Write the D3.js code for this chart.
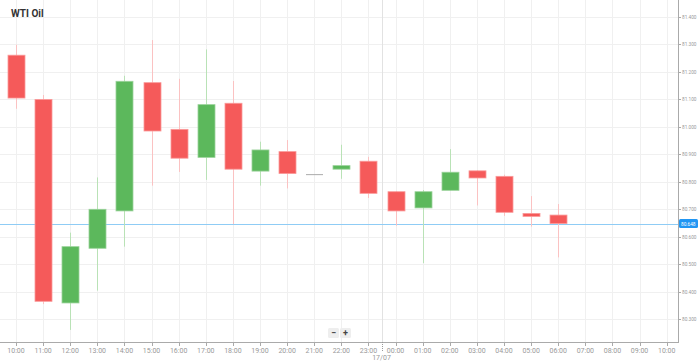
<!DOCTYPE html>
<html><head><meta charset="utf-8">
<script src="https://cdn.jsdelivr.net/npm/d3@7"></script>
<style>
html,body{margin:0;padding:0;background:#fff;}
svg{display:block;font-family:Roboto,"Open Sans",sans-serif;}
</style></head>
<body>
<svg id="c" width="699" height="361"></svg>
<script>
// ---- data ----
const title = "WTI Oil";
const hours = ["10:00","11:00","12:00","13:00","14:00","15:00","16:00","17:00","18:00","19:00","20:00","21:00","22:00","23:00","00:00","01:00","02:00","03:00","04:00","05:00","06:00","07:00","08:00","09:00","10:00"];
const candleHours = ["10:00","11:00","12:00","13:00","14:00","15:00","16:00","17:00","18:00","19:00","20:00","21:00","22:00","23:00","00:00","01:00","02:00","03:00","04:00","05:00","06:00"];
const openVals  = [81.261,81.100,80.359,80.558,80.694,81.161,80.991,80.889,81.086,80.839,80.910,80.828,80.846,80.875,80.764,80.705,80.769,80.840,80.820,80.685,80.679];
const highVals  = [81.299,81.116,80.615,80.816,81.186,81.316,81.175,81.282,81.167,80.946,80.952,80.828,80.935,80.891,80.766,80.770,80.919,80.842,80.826,80.748,80.719];
const lowVals   = [81.066,80.355,80.261,80.404,80.564,80.786,80.836,80.807,80.646,80.786,80.776,80.828,80.811,80.741,80.640,80.504,80.768,80.714,80.676,80.637,80.525];
const closeVals = [81.105,80.365,80.564,80.700,81.166,80.985,80.886,81.081,80.846,80.916,80.830,80.828,80.859,80.758,80.694,80.764,80.835,80.814,80.689,80.674,80.648];
const yTicks = [80.3,80.4,80.5,80.6,80.7,80.8,80.9,81.0,81.1,81.2,81.3,81.4];
const currentPrice = 80.648;
const dateLabel = "17/07";

// ---- build ----
const svg = d3.select("#c");
const plotRight = 678, plotBottom = 342;
const x = d3.scaleLinear().domain([-0.59, 24.417]).range([0, plotRight]);
const y = d3.scaleLinear().domain([80.2169, 81.4619]).range([plotBottom, 0]);

const data = candleHours.map((h,i)=>({i, h, o:openVals[i], hi:highVals[i], lo:lowVals[i], c:closeVals[i]}));

// grid
const g = svg.append("g");
g.selectAll("line.hg").data(yTicks).join("line")
  .attr("x1",0).attr("x2",plotRight)
  .attr("y1",d=>Math.round(y(d))+0.5).attr("y2",d=>Math.round(y(d))+0.5)
  .attr("stroke","#f0f0f0");
g.selectAll("line.vg").data(hours).join("line")
  .attr("x1",(d,i)=>Math.round(x(i))+0.5).attr("x2",(d,i)=>Math.round(x(i))+0.5)
  .attr("y1",0).attr("y2",plotBottom)
  .attr("stroke","#f0f0f0");
// date separator
const sepX = Math.round(x(13.5))+0.5;
g.append("line").attr("x1",sepX).attr("x2",sepX).attr("y1",0).attr("y2",plotBottom).attr("stroke","#e2e2e2");

// current price line
svg.append("line").attr("x1",0).attr("x2",plotRight)
  .attr("y1",Math.round(y(currentPrice))+0.5).attr("y2",Math.round(y(currentPrice))+0.5)
  .attr("stroke","#8fccf5").attr("stroke-width",1);

// candles
const col = d => d.c > d.o ? "#5cb85c" : (d.c < d.o ? "#f55a5a" : "#aaaaaa");
const bcol = d => d.c > d.o ? "#9bd39b" : (d.c < d.o ? "#fa9a9a" : "#aaaaaa");
const wcol = d => d.c > d.o ? "#b9e2b6" : (d.c < d.o ? "#fbc2c2" : "#aaaaaa");
const cg = svg.append("g");
cg.selectAll("line.w").data(data).join("line")
  .attr("x1",d=>Math.round(x(d.i))+0.5).attr("x2",d=>Math.round(x(d.i))+0.5)
  .attr("y1",d=>y(d.hi)).attr("y2",d=>y(d.lo))
  .attr("stroke",wcol).attr("stroke-width",1);
const bw = 17;
cg.selectAll("rect.b").data(data).join("rect")
  .attr("x",d=>Math.round(x(d.i))-bw/2+0.5)
  .attr("y",d=>Math.min(y(d.o),y(d.c)))
  .attr("width",bw)
  .attr("height",d=>Math.max(1,Math.abs(y(d.o)-y(d.c))))
  .attr("fill",col)
  .attr("stroke",d=> d.c===d.o ? "none" : bcol(d)).attr("stroke-width",0.8);

// x axis
const xa = svg.append("g");
xa.append("line").attr("x1",0).attr("x2",plotRight).attr("y1",plotBottom+0.5).attr("y2",plotBottom+0.5).attr("stroke","#aaa");
xa.selectAll("line.t").data(hours).join("line")
  .attr("x1",(d,i)=>Math.round(x(i))+0.5).attr("x2",(d,i)=>Math.round(x(i))+0.5)
  .attr("y1",plotBottom).attr("y2",plotBottom+4).attr("stroke","#aaa");
xa.selectAll("text").data(hours).join("text")
  .attr("x",(d,i)=>x(i)).attr("y",352.5)
  .attr("text-anchor","middle").attr("font-size",7).attr("fill","#999").text(d=>d);
xa.append("line").attr("x1",sepX).attr("x2",sepX).attr("y1",plotBottom).attr("y2",plotBottom+9)
  .attr("stroke","#999").attr("stroke-dasharray","1,1");
xa.append("text").attr("x",sepX-1).attr("y",359.5).attr("text-anchor","middle")
  .attr("font-size",7).attr("fill","#999").text(dateLabel);

// y axis
const ya = svg.append("g");
ya.append("line").attr("x1",plotRight+0.5).attr("x2",plotRight+0.5).attr("y1",0).attr("y2",plotBottom+1).attr("stroke","#aaa");
ya.selectAll("line.t").data(yTicks).join("line")
  .attr("x1",plotRight).attr("x2",plotRight+3)
  .attr("y1",d=>Math.round(y(d))+0.5).attr("y2",d=>Math.round(y(d))+0.5).attr("stroke","#aaa");
ya.selectAll("text").data(yTicks).join("text")
  .attr("x",plotRight+4).attr("y",d=>y(d)+2)
  .attr("font-size",5.6).attr("textLength",14.5).attr("lengthAdjust","spacingAndGlyphs")
  .attr("fill","#999").text(d=>d3.format(".3f")(d));

// price badge
const py = y(currentPrice);
svg.append("rect").attr("x",plotRight+1).attr("y",py-4.5).attr("width",19).attr("height",9).attr("rx",1.5).attr("fill","#2196f3");
svg.append("text").attr("x",plotRight+3).attr("y",py+2).attr("font-size",5.6)
  .attr("textLength",14.5).attr("lengthAdjust","spacingAndGlyphs")
  .attr("fill","#fff").text(d3.format(".3f")(currentPrice));

// title
svg.append("text").attr("x",11).attr("y",16.5).attr("font-size",10).attr("font-weight","bold").attr("fill","#333").text(title);

// zoom buttons
const btn = svg.append("g");
[["−",328],["+",340]].forEach(([t,bx])=>{
  btn.append("rect").attr("x",bx).attr("y",328).attr("width",11).attr("height",10).attr("rx",1.5).attr("fill","#eeeeee");
  btn.append("text").attr("x",bx+5.5).attr("y",336).attr("text-anchor","middle").attr("font-size",9).attr("font-weight","bold").attr("fill","#444").text(t);
});
</script>
</body></html>
